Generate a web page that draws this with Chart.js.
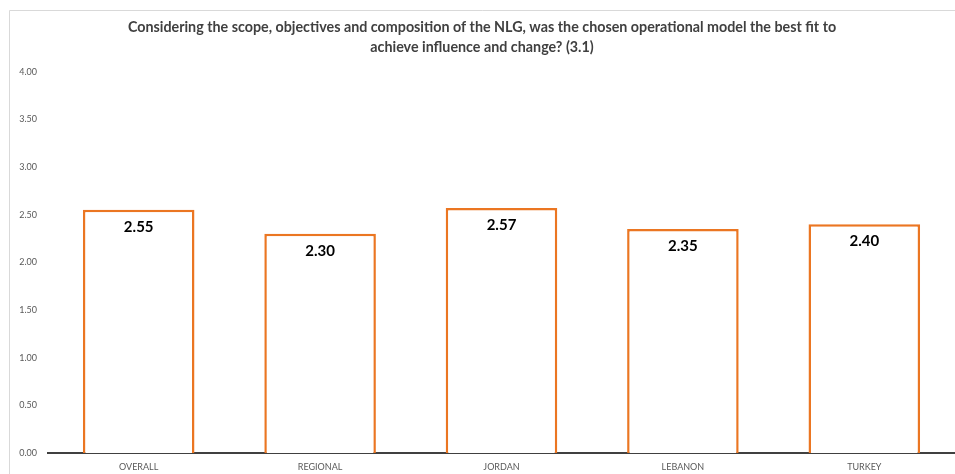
<!DOCTYPE html>
<html>
<head>
<meta charset="utf-8">
<script src="https://cdn.jsdelivr.net/npm/chart.js@4/dist/chart.umd.min.js"></script>
<style>
  html, body { margin: 0; padding: 0; background: #fff; }
  #wrap { width: 955px; height: 474px; position: relative; }
</style>
</head>
<body>
<div id="wrap"><canvas id="myChart"></canvas></div>
<script>
const categories = ['OVERALL', 'REGIONAL', 'JORDAN', 'LEBANON', 'TURKEY'];
const scores = [2.55, 2.30, 2.57, 2.35, 2.40];
const yTicks = [0, 0.5, 1, 1.5, 2, 2.5, 3, 3.5, 4];
const titleLines = [
  'Considering the scope, objectives and composition of the NLG, was the chosen operational model the best fit to',
  'achieve influence and change? (3.1)'
];

const FONT = 'Lato, "Open Sans", sans-serif';

// light frame on the left and top of the chart box
const frame = {
  id: 'frame',
  beforeDraw(chart) {
    const c = chart.ctx;
    c.save();
    c.fillStyle = '#fff';
    c.fillRect(0, 0, chart.width, chart.height);
    c.strokeStyle = '#d9d9d9';
    c.lineWidth = 1;
    c.beginPath();
    c.moveTo(9.5, chart.height);
    c.lineTo(9.5, 10.5);
    c.lineTo(chart.width, 10.5);
    c.stroke();
    c.restore();
  }
};

// value printed just under the top of each bar
const barValues = {
  id: 'barValues',
  afterDatasetsDraw(chart) {
    const c = chart.ctx;
    const meta = chart.getDatasetMeta(0);
    c.save();
    c.font = 'bold 15px ' + FONT;
    c.fillStyle = '#000';
    c.textAlign = 'center';
    c.textBaseline = 'middle';
    meta.data.forEach((bar, i) => {
      c.fillText(scores[i].toFixed(2), bar.x, bar.y + 17);
    });
    c.restore();
  }
};

new Chart(document.getElementById('myChart'), {
  type: 'bar',
  data: {
    labels: categories,
    datasets: [{
      data: scores,
      backgroundColor: '#fff',
      borderColor: '#EB7622',
      borderWidth: 2.5,
      borderSkipped: 'bottom',
      barPercentage: 0.615,
      categoryPercentage: 1
    }]
  },
  options: {
    responsive: true,
    maintainAspectRatio: false,
    animation: false,
    layout: { padding: { left: 9, right: 0, top: 10, bottom: 0 } },
    plugins: {
      legend: { display: false },
      tooltip: { enabled: false },
      title: {
        display: true,
        text: titleLines,
        color: '#404040',
        font: { family: FONT, size: 14.3, weight: 'bold', lineHeight: 1.42 },
        padding: { top: 7, bottom: 14 }
      }
    },
    scales: {
      x: {
        grid: { display: false },
        border: { display: true, color: '#404040', width: 2 },
        ticks: { color: '#595959', font: { family: FONT, size: 9 }, padding: 1 },
        afterFit(scale) { scale.height = 21; }
      },
      y: {
        min: 0,
        max: 4,
        grid: { display: false },
        border: { display: false },
        afterBuildTicks(scale) { scale.ticks = yTicks.map(v => ({ value: v })); },
        ticks: {
          color: '#595959',
          font: { family: FONT, size: 9 },
          padding: 3,
          callback: v => Number(v).toFixed(2)
        },
        afterFit(scale) { scale.width = 39; }
      }
    }
  },
  plugins: [frame, barValues]
});
</script>
</body>
</html>
